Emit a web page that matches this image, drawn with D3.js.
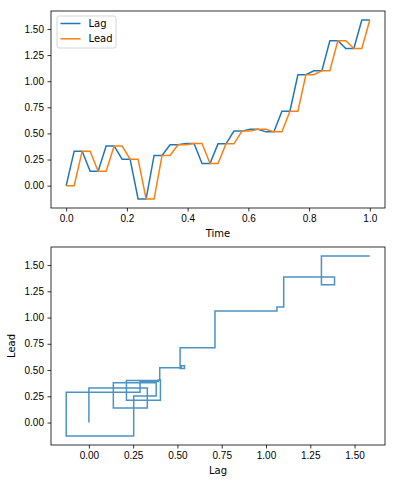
<!DOCTYPE html>
<html>
<head>
<meta charset="utf-8">
<script src="https://cdn.jsdelivr.net/npm/d3@7"></script>
<style>
  body { margin: 0; background: #fff; }
  svg { font-family: "DejaVu Sans", sans-serif; }
  .axis path, .axis line { stroke: #000; stroke-width: 0.8; }
  .axis text { font-size: 10px; fill: #000; }
</style>
</head>
<body>
<svg width="396" height="483"></svg>
<script>
// lead-lag series (39 steps, time 0..1)
const lagValues = [0, 0.33, 0.33, 0.138, 0.138, 0.38, 0.38, 0.253, 0.253, -0.128, -0.128,
  0.289, 0.289, 0.392, 0.392, 0.404, 0.404, 0.212, 0.212, 0.40, 0.40, 0.522, 0.522,
  0.54, 0.54, 0.515, 0.515, 0.712, 0.712, 1.062, 1.062, 1.10, 1.10, 1.387, 1.387,
  1.313, 1.313, 1.586, 1.586];
const leadValues = [0, 0, 0.33, 0.33, 0.138, 0.138, 0.38, 0.38, 0.253, 0.253, -0.128,
  -0.128, 0.289, 0.289, 0.392, 0.392, 0.404, 0.404, 0.212, 0.212, 0.40, 0.40, 0.522,
  0.522, 0.54, 0.54, 0.515, 0.515, 0.712, 0.712, 1.062, 1.062, 1.10, 1.10, 1.387,
  1.387, 1.313, 1.313, 1.586];
const timeTicks = [0, 0.2, 0.4, 0.6, 0.8, 1.0];
const valueTicks = [0, 0.25, 0.5, 0.75, 1.0, 1.25, 1.5];

const svg = d3.select("svg");
const n = lagValues.length;
const times = d3.range(n).map(i => i / (n - 1));

const blue = "#1f77b4", orange = "#ff7f0e";
const top1 = {left: 51, right: 385, top: 11, bottom: 208};
const top2 = {left: 51, right: 385, top: 247, bottom: 445};

const valDomain = [-0.214, 1.672];

// ---- top panel: series vs time
const x1 = d3.scaleLinear().domain([-0.05, 1.05]).range([top1.left, top1.right]);
const y1 = d3.scaleLinear().domain(valDomain).range([top1.bottom, top1.top]);

const g1 = svg.append("g");

const line1 = (vals) => d3.line()
  .x((d, i) => x1(times[i]))
  .y(d => y1(d))(vals);

g1.append("path").attr("d", line1(lagValues))
  .attr("fill", "none").attr("stroke", blue).attr("stroke-width", 1.5);
g1.append("path").attr("d", line1(leadValues))
  .attr("fill", "none").attr("stroke", orange).attr("stroke-width", 1.5);

g1.append("g").attr("class", "axis")
  .attr("transform", `translate(0,${top1.bottom})`)
  .call(d3.axisBottom(x1).tickValues(timeTicks).tickFormat(d3.format(".1f"))
    .tickSizeOuter(0).tickSize(3.5).tickPadding(3.5))
  .select(".domain").remove();
g1.append("g").attr("class", "axis")
  .attr("transform", `translate(${top1.left},0)`)
  .call(d3.axisLeft(y1).tickValues(valueTicks).tickFormat(d3.format(".2f"))
    .tickSizeOuter(0).tickSize(3.5).tickPadding(3.5))
  .select(".domain").remove();

g1.append("rect")
  .attr("x", top1.left).attr("y", top1.top)
  .attr("width", top1.right - top1.left).attr("height", top1.bottom - top1.top)
  .attr("fill", "none").attr("stroke", "#000").attr("stroke-width", 0.8);

svg.append("text")
  .attr("x", (top1.left + top1.right) / 2).attr("y", 237)
  .attr("text-anchor", "middle").style("font-size", "10px")
  .text("Time");

// legend
const legend = g1.append("g").attr("transform", `translate(57,16)`);
legend.append("rect")
  .attr("width", 59).attr("height", 32).attr("rx", 2)
  .attr("fill", "#fff").attr("fill-opacity", 0.8)
  .attr("stroke", "#ccc").attr("stroke-width", 0.8);
[["Lag", blue], ["Lead", orange]].forEach(([name, c], i) => {
  const row = legend.append("g").attr("transform", `translate(0,${7.5 + i * 15.3})`);
  row.append("line").attr("x1", 3.5).attr("x2", 23.5)
    .attr("stroke", c).attr("stroke-width", 1.5);
  row.append("text").attr("x", 31.5).attr("y", 3.6)
    .style("font-size", "10px").text(name);
});

// ---- bottom panel: lead vs lag
const x2 = d3.scaleLinear().domain(valDomain).range([top2.left, top2.right]);
const y2 = d3.scaleLinear().domain(valDomain).range([top2.bottom, top2.top]);

const g2 = svg.append("g");
g2.append("path")
  .attr("d", d3.line().x(d => x2(d[0])).y(d => y2(d[1]))(d3.zip(leadValues, lagValues)))
  .attr("fill", "none").attr("stroke", blue).attr("stroke-width", 1.5)
  .attr("stroke-opacity", 0.8);

g2.append("g").attr("class", "axis")
  .attr("transform", `translate(0,${top2.bottom})`)
  .call(d3.axisBottom(x2).tickValues(valueTicks).tickFormat(d3.format(".2f"))
    .tickSizeOuter(0).tickSize(3.5).tickPadding(3.5))
  .select(".domain").remove();
g2.append("g").attr("class", "axis")
  .attr("transform", `translate(${top2.left},0)`)
  .call(d3.axisLeft(y2).tickValues(valueTicks).tickFormat(d3.format(".2f"))
    .tickSizeOuter(0).tickSize(3.5).tickPadding(3.5))
  .select(".domain").remove();

g2.append("rect")
  .attr("x", top2.left).attr("y", top2.top)
  .attr("width", top2.right - top2.left).attr("height", top2.bottom - top2.top)
  .attr("fill", "none").attr("stroke", "#000").attr("stroke-width", 0.8);

svg.append("text")
  .attr("x", (top2.left + top2.right) / 2).attr("y", 474)
  .attr("text-anchor", "middle").style("font-size", "10px")
  .text("Lag");

svg.append("text")
  .attr("transform", `translate(15,${(top2.top + top2.bottom) / 2}) rotate(-90)`)
  .attr("text-anchor", "middle").style("font-size", "10px")
  .text("Lead");
</script>
</body>
</html>
